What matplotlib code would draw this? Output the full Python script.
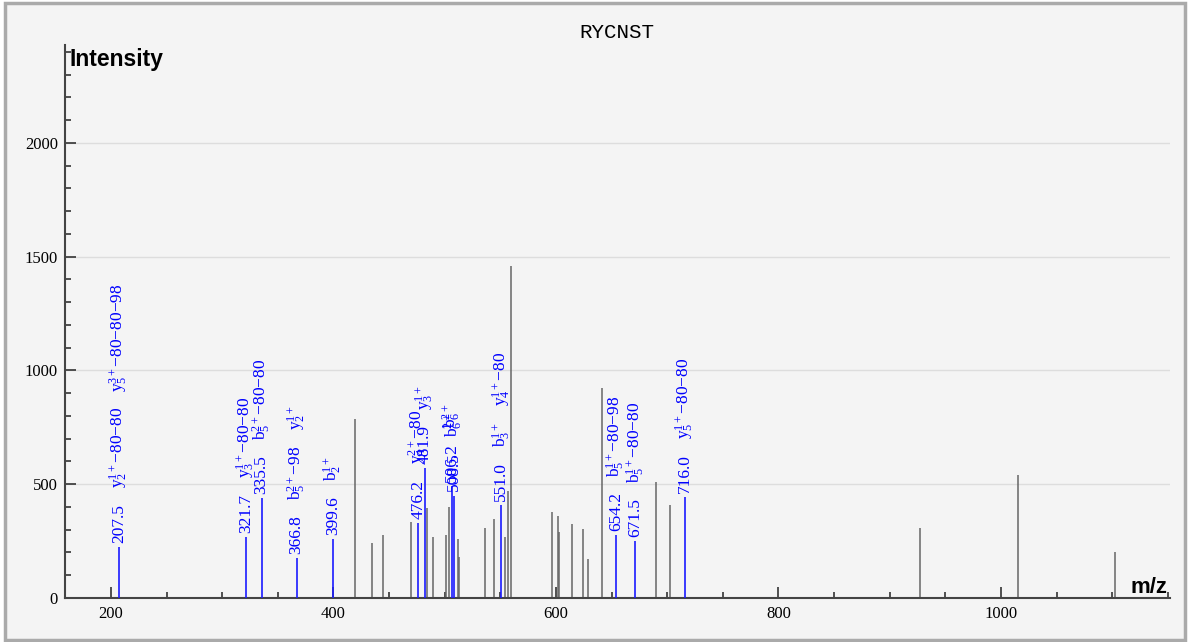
import matplotlib
matplotlib.use("Agg")
import matplotlib.pyplot as plt
from matplotlib.patches import Rectangle
from matplotlib.ticker import MultipleLocator

plt.rcParams['mathtext.fontset'] = 'stix'

title = "RYCNST"

# unannotated peaks (m/z, intensity)
peak_mz = [419.6, 434.3, 444.8, 469.6, 484.3, 489.2, 500.9, 504.1, 512.2, 513.1,
           536.4, 544.0, 553.8, 557.2, 559.3, 596.7, 601.6, 603.0, 614.6, 624.3,
           628.5, 641.0, 690.2, 702.5, 927.4, 1015.6, 1102.5]
peak_int = [788, 240, 275, 333, 394, 268, 277, 400, 258, 181,
            307, 348, 268, 468, 1459, 379, 360, 288, 325, 302,
            170, 921, 508, 409, 309, 540, 201]

# annotated peaks
ann_mz = [207.5, 321.7, 335.5, 366.8, 399.6, 476.2, 481.9, 506.2, 508.5, 551.0, 654.2, 671.5, 716.0]
ann_int = [225, 269, 438, 177, 258, 330, 570, 490, 450, 409, 277, 250, 442]
ann_ions = [
    [r"$\mathregular{y_2^{1+}}$−80−80", r"$\mathregular{y_5^{3+}}$−80−80−98"],
    [r"$\mathregular{y_3^{1+}}$−80−80"],
    [r"$\mathregular{b_5^{2+}}$−80−80"],
    [r"$\mathregular{b_5^{2+}}$−98", r"$\mathregular{y_2^{1+}}$"],
    [r"$\mathregular{b_2^{1+}}$"],
    [r"$\mathregular{y_4^{2+}}$−80"],
    [r"$\mathregular{y_3^{1+}}$"],
    [r"$\mathregular{b_6^{2+}}$"],
    [r"$\mathregular{b_6^{2+}}$"],
    [r"$\mathregular{b_3^{1+}}$", r"$\mathregular{y_4^{1+}}$−80"],
    [r"$\mathregular{b_5^{1+}}$−80−98"],
    [r"$\mathregular{b_5^{1+}}$−80−80"],
    [r"$\mathregular{y_5^{1+}}$−80−80"],
]

W, H = 1188, 642
fig = plt.figure(figsize=(W / 100, H / 100), dpi=100, facecolor='white')
fig.patches.append(Rectangle((5 / W, 2 / H), 1180 / W, 637 / H, transform=fig.transFigure,
                             fc='#f4f4f4', ec='#aaaaaa', lw=2.5, zorder=-10))

ax = fig.add_axes([65 / W, 1 - 598 / H, (1170 - 65) / W, (598 - 45) / H])
ax.set_facecolor('none')

ax.vlines(peak_mz, 0, peak_int, color='#666666', lw=1.1, zorder=2)
ax.vlines(ann_mz, 0, ann_int, color='#1a1aff', lw=1.2, zorder=3)

ax.set_xlim(158.7, 1152)
ax.set_ylim(0, 2430)

ax.xaxis.set_major_locator(MultipleLocator(200))
ax.xaxis.set_minor_locator(MultipleLocator(50))
ax.yaxis.set_major_locator(MultipleLocator(500))
ax.yaxis.set_minor_locator(MultipleLocator(100))

for s in ['top', 'right']:
    ax.spines[s].set_visible(False)
for s in ['left', 'bottom']:
    ax.spines[s].set_color('#444444')
    ax.spines[s].set_linewidth(1.5)

ax.tick_params(which='both', direction='in', color='#333333', width=1.2,
               labelsize=12, labelfontfamily='Liberation Serif')
ax.tick_params(which='major', length=8)
ax.tick_params(which='minor', length=4.5)
ax.tick_params(axis='y', pad=5)
ax.tick_params(axis='x', pad=6)
ax.grid(axis='y', which='major', color='#dddddd', lw=1, zorder=0)
ax.set_axisbelow(True)

fig.text(617 / W, 1 - 33 / H, title, family='Liberation Mono', size=15,
         ha='center', va='center')
ax.text(0.004, 0.995, "Intensity", transform=ax.transAxes, family='Liberation Sans',
        weight='bold', size=16.5, ha='left', va='top')
ax.text(0.998, 0.009, "m/z", transform=ax.transAxes, family='Liberation Sans',
        weight='bold', size=16, ha='right', va='baseline')

# stacked vertical labels above each annotated peak
renderer = fig.canvas.get_renderer()
for mz, inten, ions in zip(ann_mz, ann_int, ann_ions):
    off = 3.0
    for s in ["%.1f" % mz] + ions:
        t = ax.annotate(s, xy=(mz, inten), xytext=(0, off), textcoords='offset points',
                        rotation=90, ha='center', va='bottom', color='#0000ff',
                        family='Liberation Serif', size=12.5, zorder=4)
        bb = t.get_window_extent(renderer)
        off += bb.height * 72 / fig.dpi + 11

fig.savefig("out.png", dpi=100, facecolor=fig.get_facecolor())
